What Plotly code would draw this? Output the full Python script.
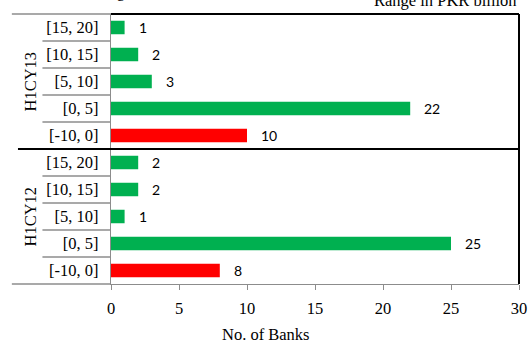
import plotly.graph_objects as go

categories = ["[-10, 0]", "[0, 5]", "[5, 10]", "[10, 15]", "[15, 20]"]
groups = ["H1CY12", "H1CY13"]
values_h1cy12 = [8, 25, 1, 2, 2]
values_h1cy13 = [10, 22, 3, 2, 1]
x_ticks = [0, 5, 10, 15, 20, 25, 30]

GREEN = "#00B050"
RED = "#FF0000"
GREY = "#8C8C8C"
SERIF = "Liberation Serif, serif"
SANS = "Lato, Open Sans, sans-serif"
FS = 16.5

ypos, xs, cols, ticktext = [], [], [], []
for gi, vals in enumerate([values_h1cy12, values_h1cy13]):
    for ci, v in enumerate(vals):
        ypos.append(gi * len(categories) + ci)
        xs.append(v)
        cols.append(RED if ci == 0 else GREEN)
        ticktext.append(categories[ci])

fig = go.Figure()
fig.add_trace(go.Bar(
    x=xs, y=ypos, orientation="h", marker=dict(color=cols, line=dict(width=0)),
    width=0.5, hoverinfo="skip", showlegend=False,
))

annotations = []
for y, v in zip(ypos, xs):
    annotations.append(dict(x=v, y=y, xref="x", yref="y", text=str(v), showarrow=False,
                            xanchor="left", xshift=12,
                            font=dict(family=SANS, size=14, color="#000")))

n = len(categories)
for gi, g in enumerate(groups):
    annotations.append(dict(x=0, y=gi * n + (n - 1) / 2, xref="paper", yref="y",
                            xanchor="center", yanchor="middle", text=g, showarrow=False,
                            textangle=-90, font=dict(family=SERIF, size=FS, color="#000"),
                            xshift=-81))

annotations.append(dict(x=1, y=1, xref="paper", yref="paper", xanchor="right", yanchor="bottom",
                        yshift=2, text="Range in PKR billion", showarrow=False,
                        font=dict(family=SERIF, size=FS, color="#000")))
annotations.append(dict(x=0, y=1, xref="paper", yref="paper", xanchor="left", yanchor="bottom",
                        xshift=-92, yshift=11, text="Pre-tax Earnings of the Banks", showarrow=False,
                        font=dict(family=SERIF, size=FS, color="#000")))
annotations.append(dict(x=266, y=0, xref="paper", yref="paper", xanchor="center", yanchor="top",
                        text="No. of Banks", showarrow=False, yshift=-39,
                        font=dict(family=SERIF, size=FS, color="#000")))
# fix x position of title in pixels -> paper fraction
annotations[-1]["x"] = (266 - 111) / (519 - 111)

shapes = []
total = len(ypos)
for k in range(1, total):
    if k == n:
        continue
    shapes.append(dict(type="line", xref="paper", yref="y", x0=-0.168, x1=0, y0=k - 0.5, y1=k - 0.5,
                       line=dict(color=GREY, width=1.3)))
shapes.append(dict(type="line", xref="paper", yref="paper", x0=-0.243, x1=0, y0=0, y1=0,
                   line=dict(color=GREY, width=1.3)))
shapes.append(dict(type="line", xref="paper", yref="paper", x0=-0.243, x1=0, y0=1, y1=1,
                   line=dict(color=GREY, width=1.3)))
shapes.append(dict(type="line", xref="paper", yref="y", x0=-0.228, x1=1, y0=n - 0.5, y1=n - 0.5,
                   line=dict(color="#000", width=2)))
shapes.append(dict(type="line", xref="paper", yref="paper", x0=0, x1=1, y0=1, y1=1,
                   line=dict(color="#000", width=2)))
shapes.append(dict(type="line", xref="paper", yref="paper", x0=1, x1=1, y0=0, y1=1,
                   line=dict(color="#000", width=2)))

fig.update_layout(
    width=532, height=344,
    margin=dict(l=111, r=13, t=14, b=60),
    paper_bgcolor="white", plot_bgcolor="white",
    annotations=annotations, shapes=shapes,
    xaxis=dict(range=[0, 30], tickvals=x_ticks, ticktext=[str(t) for t in x_ticks],
               showgrid=False, zeroline=False, showline=True, linecolor=GREY, linewidth=1.3,
               ticks="outside", ticklen=5, tickcolor=GREY, automargin=False,
               tickfont=dict(family=SERIF, size=FS, color="#000"), ticklabelstandoff=4),
    yaxis=dict(range=[-0.5, total - 0.5], tickvals=ypos, ticktext=ticktext, automargin=False,
               showgrid=False, zeroline=False, showline=True, linecolor=GREY, linewidth=1.3,
               ticks="", tickfont=dict(family=SERIF, size=FS, color="#000"), ticklabelstandoff=8),
)

fig.write_html("out.html")
